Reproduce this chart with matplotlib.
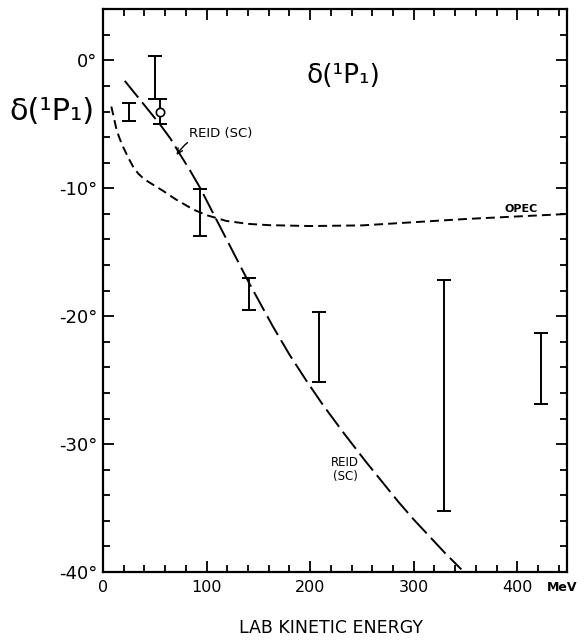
import matplotlib
matplotlib.use("Agg")
import matplotlib.pyplot as plt
from matplotlib.ticker import MultipleLocator

# Data (MeV, degrees)
bar_energy = [25, 50, 55, 94, 141, 209, 329, 423]
bar_low = [-4.7, -3.05, -5.0, -13.75, -19.55, -25.15, -35.2, -26.9]
bar_high = [-3.3, 0.35, -3.0, -10.05, -17.0, -19.7, -17.2, -21.3]
circle_energy = [55]
circle_value = [-4.0]

reid_energy = [21, 30, 40, 55, 65, 74, 84, 94, 106, 120, 141, 164, 180, 196, 212,
               233, 254, 270, 285, 300, 315, 330, 346]
reid_phase = [-1.6, -2.5, -3.5, -5.0, -6.1, -7.3, -8.6, -10.0, -11.9, -14.1, -17.4,
              -20.8, -23.0, -25.0, -26.9, -29.2, -31.4, -33.0, -34.5, -35.9, -37.2,
              -38.5, -39.8]

opec_energy = [8, 10, 13, 16, 19, 22, 25, 29, 34, 40, 48, 58, 70, 87, 100, 119, 140,
               160, 200, 250, 300, 350, 400, 450]
opec_phase = [-3.6, -4.3, -5.4, -6.1, -6.7, -7.2, -7.7, -8.3, -8.85, -9.3, -9.7,
              -10.2, -10.85, -11.65, -12.1, -12.55, -12.78, -12.88, -12.95, -12.9,
              -12.65, -12.4, -12.2, -12.0]

x_ticks = [0, 100, 200, 300, 400]
x_ticklabels = ["0", "100", "200", "300", "400"]
y_ticks = [0, -10, -20, -30, -40]
y_ticklabels = ["0°", "-10°", "-20°", "-30°", "-40°"]

plt.rcParams['font.family'] = ['DejaVu Sans']

fig = plt.figure(figsize=(5.84, 6.40), dpi=100)
ax = fig.add_axes([0.1764, 0.1063, 0.9709 - 0.1764, 0.9855 - 0.1063])

ax.set_xlim(0, 448)
ax.set_ylim(-40, 4)

# curves
ax.plot(reid_energy, reid_phase, color='black', lw=1.4, linestyle=(0, (11, 3.2)))
ax.plot(opec_energy, opec_phase, color='black', lw=1.4, linestyle=(0, (4.6, 2.6)))

# error bars
centers = [(lo + hi) / 2 for lo, hi in zip(bar_low, bar_high)]
errs = [(hi - lo) / 2 for lo, hi in zip(bar_low, bar_high)]
ax.errorbar(bar_energy, centers, yerr=errs, fmt='none', ecolor='black',
            elinewidth=1.4, capsize=5, capthick=1.4)
ax.plot(circle_energy, circle_value, 'o', mfc='white', mec='black', ms=6, mew=1.2, zorder=5)

# ticks
ax.set_xticks(x_ticks)
ax.set_xticklabels(x_ticklabels, fontsize=11.5)
ax.set_yticks(y_ticks)
ax.set_yticklabels(y_ticklabels, fontsize=13)
ax.xaxis.set_minor_locator(MultipleLocator(20))
ax.yaxis.set_minor_locator(MultipleLocator(2))
ax.tick_params(which='both', direction='in', top=True, right=True, width=1.3)
ax.tick_params(which='major', length=8)
ax.tick_params(which='minor', length=5)
ax.tick_params(axis='x', which='major', pad=6)
ax.tick_params(axis='y', which='major', pad=4)
for s in ax.spines.values():
    s.set_linewidth(1.6)

# texts
ax.text(443, -0.027, "MeV", transform=ax.get_xaxis_transform(), ha='center', va='center',
        fontsize=9, fontweight='bold')
fig.text(0.566, 0.019, "LAB KINETIC ENERGY", ha='center', va='center', fontsize=12.5)
fig.text(0.089, 0.825, "δ(¹P₁)", ha='center', va='center', fontsize=22)
ax.text(232, -1.2, "δ(¹P₁)", ha='center', va='center', fontsize=19)
ax.annotate("REID (SC)", xy=(71, -7.4), xytext=(83, -5.7), ha='left', va='center',
            fontsize=9.5,
            arrowprops=dict(arrowstyle='->', color='black', lw=1.0,
                            connectionstyle='arc3,rad=0.3', shrinkA=0, shrinkB=0))
ax.text(404, -11.6, "OPEC", ha='center', va='center', fontsize=8, fontweight='bold')
ax.text(234, -32.0, "REID\n(SC)", ha='center', va='center', fontsize=8.5, linespacing=1.1)

fig.savefig("out.png", dpi=100)
